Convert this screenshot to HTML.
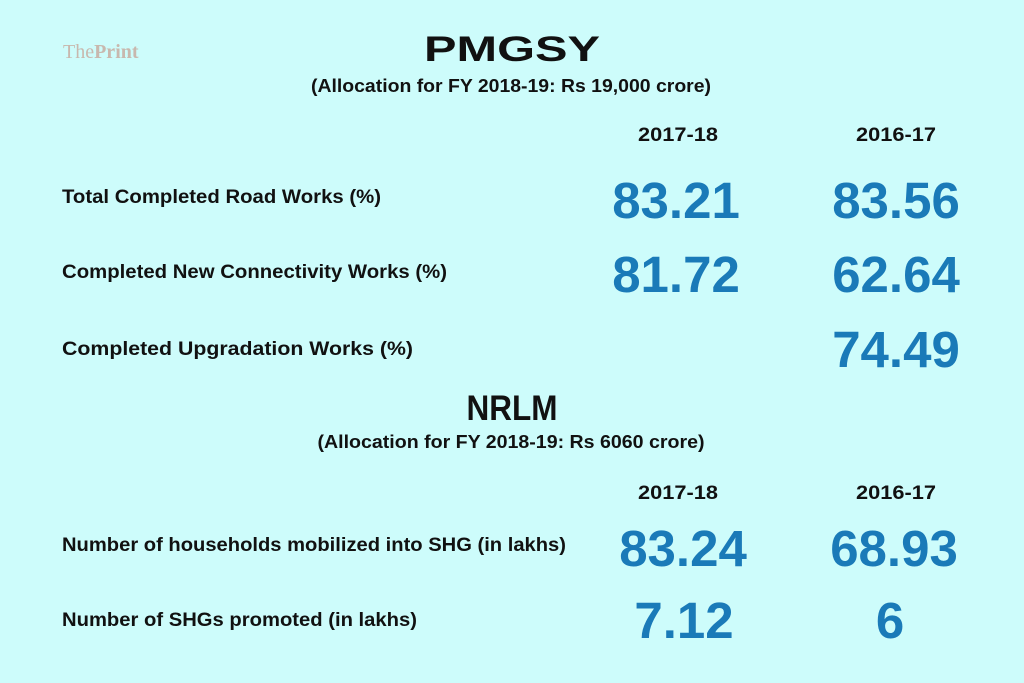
<!DOCTYPE html>
<html><head><meta charset="utf-8"><style>
html,body{margin:0;padding:0;background:#cdfcfb;}
svg{display:block;font-family:"Liberation Sans",sans-serif;font-weight:bold;}
</style></head><body>
<svg width="1024" height="683" viewBox="0 0 1024 683">
<rect width="1024" height="683" fill="#cdfcfb"/>
<text x="63" y="58" font-family="Liberation Serif,serif" font-size="20" fill="#c8b8ae"><tspan font-weight="normal">The</tspan><tspan font-weight="bold">Print</tspan></text>
<text x="512" y="61" text-anchor="middle" font-size="35" textLength="176" lengthAdjust="spacingAndGlyphs" fill="#111">PMGSY</text>
<text x="511" y="92" text-anchor="middle" font-size="18" textLength="400" lengthAdjust="spacingAndGlyphs" fill="#111">(Allocation for FY 2018-19: Rs 19,000 crore)</text>
<text x="678" y="141" text-anchor="middle" font-size="19" textLength="80" lengthAdjust="spacingAndGlyphs" fill="#111">2017-18</text>
<text x="896" y="141" text-anchor="middle" font-size="19" textLength="80" lengthAdjust="spacingAndGlyphs" fill="#111">2016-17</text>
<g fill="#111" font-size="19">
<text x="62" y="203" textLength="319" lengthAdjust="spacingAndGlyphs">Total Completed Road Works (%)</text>
<text x="62" y="278" textLength="385" lengthAdjust="spacingAndGlyphs">Completed New Connectivity Works (%)</text>
<text x="62" y="355" textLength="351" lengthAdjust="spacingAndGlyphs">Completed Upgradation Works (%)</text>
<text x="62" y="551" textLength="504" lengthAdjust="spacingAndGlyphs">Number of households mobilized into SHG (in lakhs)</text>
<text x="62" y="626" textLength="355" lengthAdjust="spacingAndGlyphs">Number of SHGs promoted (in lakhs)</text>
</g>
<g fill="#1a7ab8" font-size="51" text-anchor="middle">
<text x="676" y="218">83.21</text>
<text x="896" y="218">83.56</text>
<text x="676" y="292">81.72</text>
<text x="896" y="292">62.64</text>
<text x="896" y="367">74.49</text>
<text x="683" y="566">83.24</text>
<text x="894" y="566">68.93</text>
<text x="684" y="638">7.12</text>
<text x="890" y="638">6</text>
</g>
<text x="512" y="420" text-anchor="middle" font-size="35" textLength="91" lengthAdjust="spacingAndGlyphs" fill="#111">NRLM</text>
<text x="511" y="448" text-anchor="middle" font-size="18" textLength="387" lengthAdjust="spacingAndGlyphs" fill="#111">(Allocation for FY 2018-19: Rs 6060  crore)</text>
<text x="678" y="499" text-anchor="middle" font-size="19" textLength="80" lengthAdjust="spacingAndGlyphs" fill="#111">2017-18</text>
<text x="896" y="499" text-anchor="middle" font-size="19" textLength="80" lengthAdjust="spacingAndGlyphs" fill="#111">2016-17</text>
</svg>
</body></html>
